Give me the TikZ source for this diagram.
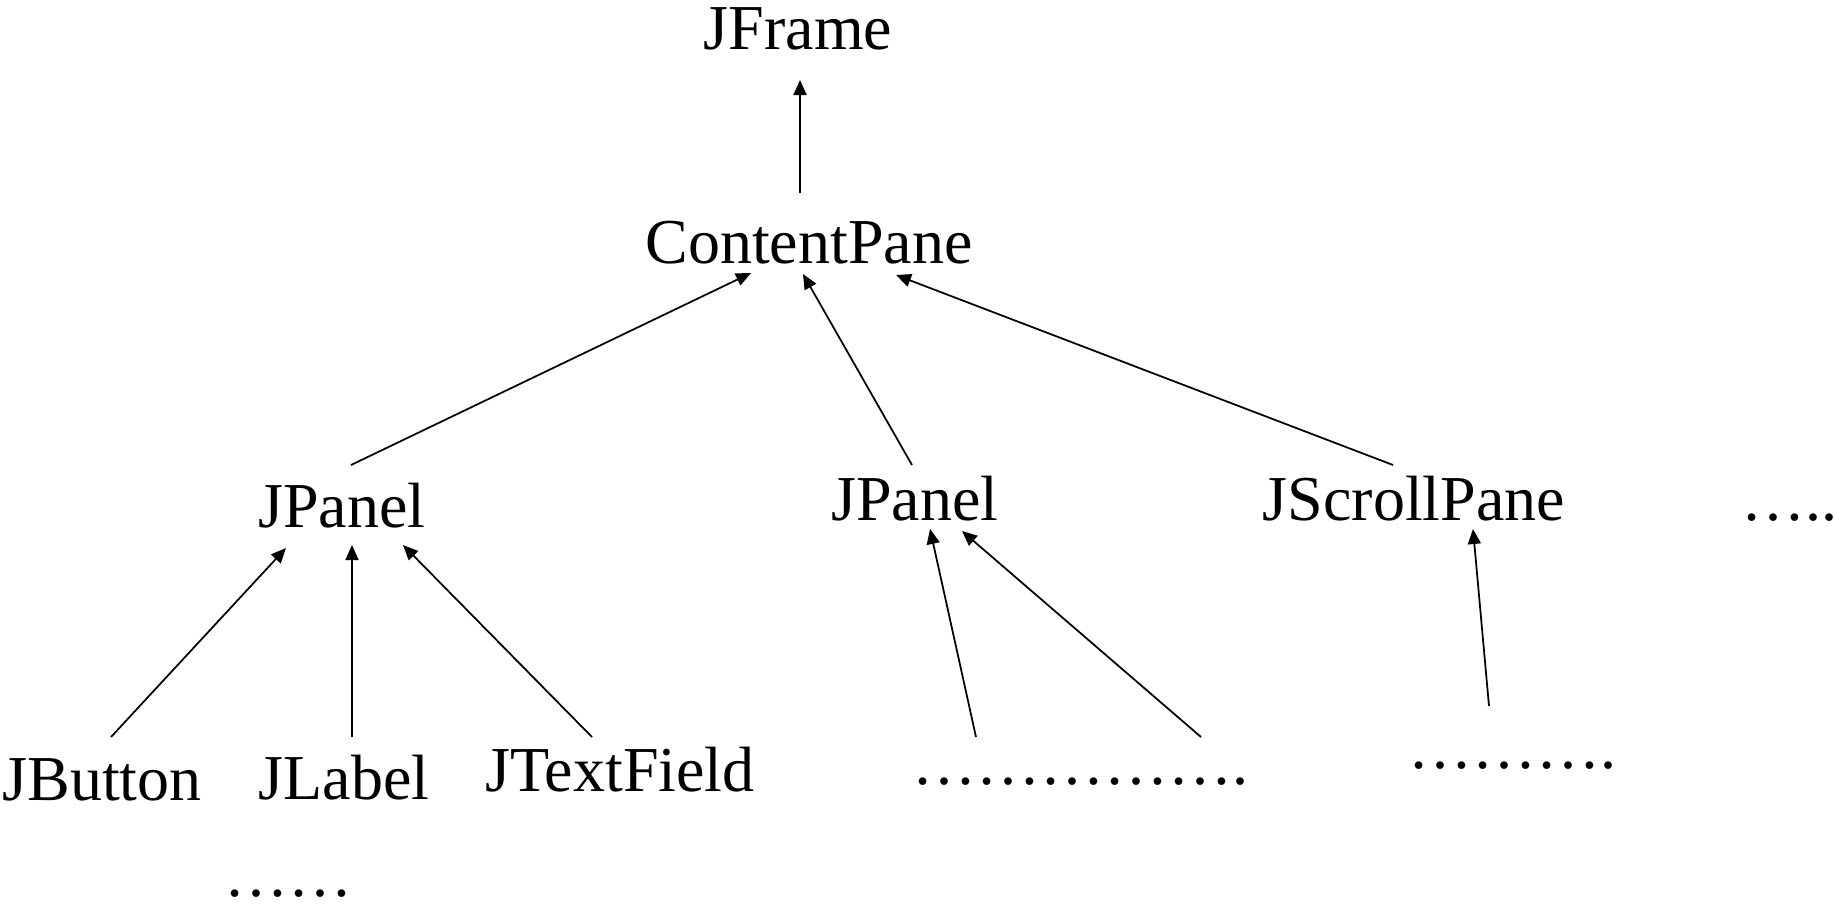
\documentclass[tikz,border=0pt]{standalone}
\usepackage{fontspec}
\setmainfont{Liberation Serif}
\usetikzlibrary{arrows.meta}
\tikzset{
  lbl/.style={anchor=base, inner sep=0pt, font=\fontsize{25.6}{30}\selectfont},
  dotlbl/.style={anchor=base west, inner sep=0pt, font=\fontsize{25.6}{30}\selectfont},
  arr/.style={line width=0.7pt, -{Triangle[length=6pt,width=5.2pt]}}
}
\begin{document}
\begin{tikzpicture}[x=0.4pt,y=-0.4pt]
\useasboundingbox (0,0) rectangle (1835,903);
% nodes
\node[lbl] (jf) at (798,49) {JFrame};
\node[lbl] (cp) at (809,263) {ContentPane};
\node[lbl] (jp1) at (342,527) {JPanel};
\node[lbl] (jp2) at (915,520) {JPanel};
\node[lbl] (jsp) at (1414,520) {JScrollPane};
\node[dotlbl] (more) at (1741,520) {…..};
\node[lbl] (jb) at (102,800) {JButton};
\node[lbl] (jl) at (344,799) {JLabel};
\node[lbl] (jt) at (620,791) {JTextField};
\node[dotlbl] (d1) at (224,896) {……};
\node[dotlbl] (d2) at (912,784) {…………….};
\node[dotlbl] (d3) at (1408,768) {……….};
% connector end points
\coordinate (cpT) at (800,193); \coordinate (jfH) at (800,80);
\coordinate (jp1T) at (351,465); \coordinate (cpH1) at (751,273);
\coordinate (jp2T) at (912,465); \coordinate (cpH2) at (803,274);
\coordinate (jspT) at (1393,465); \coordinate (cpH3) at (896,275);
\coordinate (jbT) at (111,737); \coordinate (jp1H1) at (286,548);
\coordinate (jlT) at (352,737); \coordinate (jp1H2) at (352,545);
\coordinate (jtT) at (592,737); \coordinate (jp1H3) at (403,545);
\coordinate (d2Ta) at (976,737); \coordinate (jp2H1) at (930,529);
\coordinate (d2Tb) at (1201,737); \coordinate (jp2H2) at (962,531);
\coordinate (d3T) at (1489,706); \coordinate (jspH) at (1473,529);
% connectors
\draw[arr] (cpT) -- (jfH);
\draw[arr] (jp1T) -- (cpH1);
\draw[arr] (jp2T) -- (cpH2);
\draw[arr] (jspT) -- (cpH3);
\draw[arr] (jbT) -- (jp1H1);
\draw[arr] (jlT) -- (jp1H2);
\draw[arr] (jtT) -- (jp1H3);
\draw[arr] (d2Ta) -- (jp2H1);
\draw[arr] (d2Tb) -- (jp2H2);
\draw[arr] (d3T) -- (jspH);
\end{tikzpicture}
\end{document}
